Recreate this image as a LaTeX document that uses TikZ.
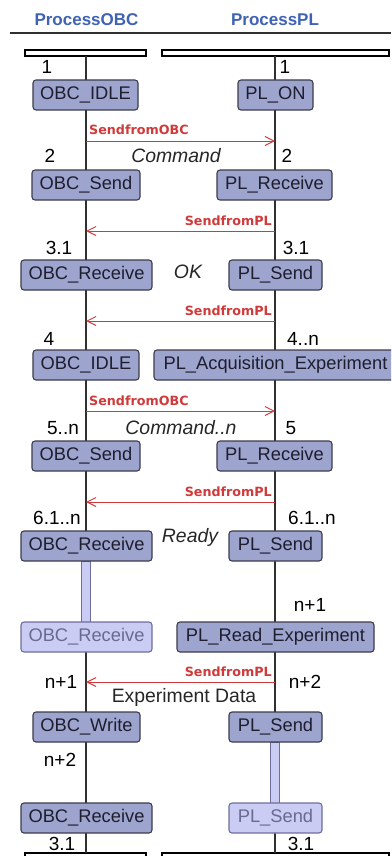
\documentclass[tikz,border=0pt]{standalone}
\usepackage{fontspec}
\setmainfont{Liberation Sans}
\newfontfamily\sigfont{DejaVu Sans}
\usetikzlibrary{arrows.meta}
\definecolor{boxfill}{HTML}{9DA4CE}
\definecolor{boxline}{HTML}{3C3C4C}
\definecolor{boxtext}{HTML}{1E1E2E}
\definecolor{palefill}{HTML}{CACCF4}
\definecolor{paleline}{HTML}{6E6E9E}
\definecolor{paletext}{HTML}{6A6A90}
\definecolor{msgred}{HTML}{D03A3A}
\definecolor{headblue}{HTML}{3F62B5}
\definecolor{lifegray}{HTML}{303030}

\begin{document}
\begin{tikzpicture}[x=1pt,y=-1pt,
  stbox/.style={draw=boxline, fill=boxfill, text=boxtext, line width=1.1pt,
    rounded corners=3pt, minimum height=30pt, inner sep=0pt,
    font=\fontsize{18.3}{20}\selectfont},
  pale/.style={stbox, draw=paleline, fill=palefill, text=paletext},
  stepnum/.style={font=\fontsize{19}{21}\selectfont, text=black, inner sep=0pt},
  msg/.style={font=\fontsize{19.4}{21}\selectfont\itshape, text=black!85, inner sep=0pt},
  siglabel/.style={font=\sigfont\bfseries\fontsize{12.7}{14}\selectfont, text=msgred, inner sep=0pt},
  sig/.style={draw=msgred, line width=1pt, -{Straight Barb[length=9pt,width=9pt]}},
  life/.style={draw=lifegray, line width=1.1pt},
  hdr/.style={font=\bfseries\fontsize{17}{20}\selectfont, text=headblue, inner sep=0pt},
  lanebar/.style={draw=black, line width=1.3pt, fill=white},
  activebar/.style={draw=paleline, line width=0.9pt, fill=palefill}
]
\clip (0,0) rectangle (391,856);

% process headers
\node[hdr] (hobc) at (86.5,20) {ProcessOBC};
\node[hdr] (hpl) at (275,20) {ProcessPL};
\coordinate (hl0) at (10,33);
\coordinate (hl1) at (391,33);
\draw[draw=lifegray, line width=1.3pt] (hl0) -- (hl1);

% lane bars at top and bottom
\draw[lanebar] (25,50) rectangle (146,56);
\draw[lanebar] (162,50) rectangle (389,56);
\draw[lanebar] (25,853) rectangle (146,860);
\draw[lanebar] (162,853) rectangle (389,860);

% lifelines
\coordinate (lt) at (86,56);
\coordinate (lb) at (86,853);
\coordinate (rt) at (275,56);
\coordinate (rb) at (275,853);
\draw[life] (lt) -- (lb);
\draw[life] (rt) -- (rb);

% continuation bars
\draw[activebar] (81.5,561) rectangle (90.5,622);
\draw[activebar] (270.5,742) rectangle (279.5,803);

% OBC states
\node[stbox, minimum width=105pt] (o1) at (85.5,95)  {OBC\_IDLE};
\node[stbox, minimum width=108pt] (o2) at (86,185)   {OBC\_Send};
\node[stbox, minimum width=131pt] (o3) at (86.5,275) {OBC\_Receive};
\node[stbox, minimum width=106pt] (o4) at (86,365)   {OBC\_IDLE};
\node[stbox, minimum width=108pt] (o5) at (86,456)   {OBC\_Send};
\node[stbox, minimum width=131pt] (o6) at (86.5,546) {OBC\_Receive};
\node[pale,  minimum width=131pt] (o7) at (86.5,637) {OBC\_Receive};
\node[stbox, minimum width=107pt] (o8) at (86.5,727) {OBC\_Write};
\node[stbox, minimum width=131pt] (o9) at (86.5,818) {OBC\_Receive};

% PL states
\node[stbox, minimum width=75pt]  (p1) at (275.5,95)  {PL\_ON};
\node[stbox, minimum width=115pt] (p2) at (274.5,185) {PL\_Receive};
\node[stbox, minimum width=93pt]  (p3) at (275.5,275) {PL\_Send};
\node[stbox, minimum width=243pt] (p4) at (275.5,365) {PL\_Acquisition\_Experiment};
\node[stbox, minimum width=115pt] (p5) at (274.5,456) {PL\_Receive};
\node[stbox, minimum width=93pt]  (p6) at (275.5,546) {PL\_Send};
\node[stbox, minimum width=197pt] (p7) at (275.5,637) {PL\_Read\_Experiment};
\node[stbox, minimum width=93pt]  (p8) at (275.5,727) {PL\_Send};
\node[pale,  minimum width=93pt]  (p9) at (275.5,818) {PL\_Send};

% signal ends on the lifelines
\foreach \k/\y in {1/141,2/231,3/321,4/411,5/502,6/682}{
  \coordinate (sl\k) at (86,\y);
  \coordinate (sr\k) at (275,\y);
}
\draw[sig] (sl1) -- (sr1);
\draw[sig] (sr2) -- (sl2);
\draw[sig] (sr3) -- (sl3);
\draw[sig] (sl4) -- (sr4);
\draw[sig] (sr5) -- (sl5);
\draw[sig] (sr6) -- (sl6);

% signal names
\node[siglabel, anchor=base west] (g1) at (89,135)  {SendfromOBC};
\node[siglabel, anchor=base east] (g2) at (272,225) {SendfromPL};
\node[siglabel, anchor=base east] (g3) at (272,315) {SendfromPL};
\node[siglabel, anchor=base west] (g4) at (89,405)  {SendfromOBC};
\node[siglabel, anchor=base east] (g5) at (272,496) {SendfromPL};
\node[siglabel, anchor=base east] (g6) at (272,676) {SendfromPL};

% message contents
\node[msg] (m1) at (176,156) {Command};
\node[msg] (m2) at (188,272) {OK};
\node[msg] (m3) at (181,428) {Command..n};
\node[msg] (m4) at (190,537) {Ready};
\node[msg, font=\fontsize{19.4}{21}\selectfont] (m5) at (184,697) {Experiment Data};

% step numbers, OBC side
\node[stepnum] (n1) at (47,67)  {1};
\node[stepnum] (n2) at (50,156) {2};
\node[stepnum] (n3) at (59,248) {3.1};
\node[stepnum] (n4) at (49,339) {4};
\node[stepnum] (n5) at (63,428) {5..n};
\node[stepnum] (n6) at (57,518) {6.1..n};
\node[stepnum] (n7) at (61,682) {n+1};
\node[stepnum] (n8) at (60,760) {n+2};
\node[stepnum] (n9) at (62,844) {3.1};

% step numbers, PL side
\node[stepnum] (q1) at (285,67)  {1};
\node[stepnum] (q2) at (287,156) {2};
\node[stepnum] (q3) at (296,248) {3.1};
\node[stepnum] (q4) at (303,339) {4..n};
\node[stepnum] (q5) at (291,428) {5};
\node[stepnum] (q6) at (312,518) {6.1..n};
\node[stepnum] (q7) at (310,605) {n+1};
\node[stepnum] (q8) at (305,682) {n+2};
\node[stepnum] (q9) at (301,844) {3.1};
\end{tikzpicture}
\end{document}
